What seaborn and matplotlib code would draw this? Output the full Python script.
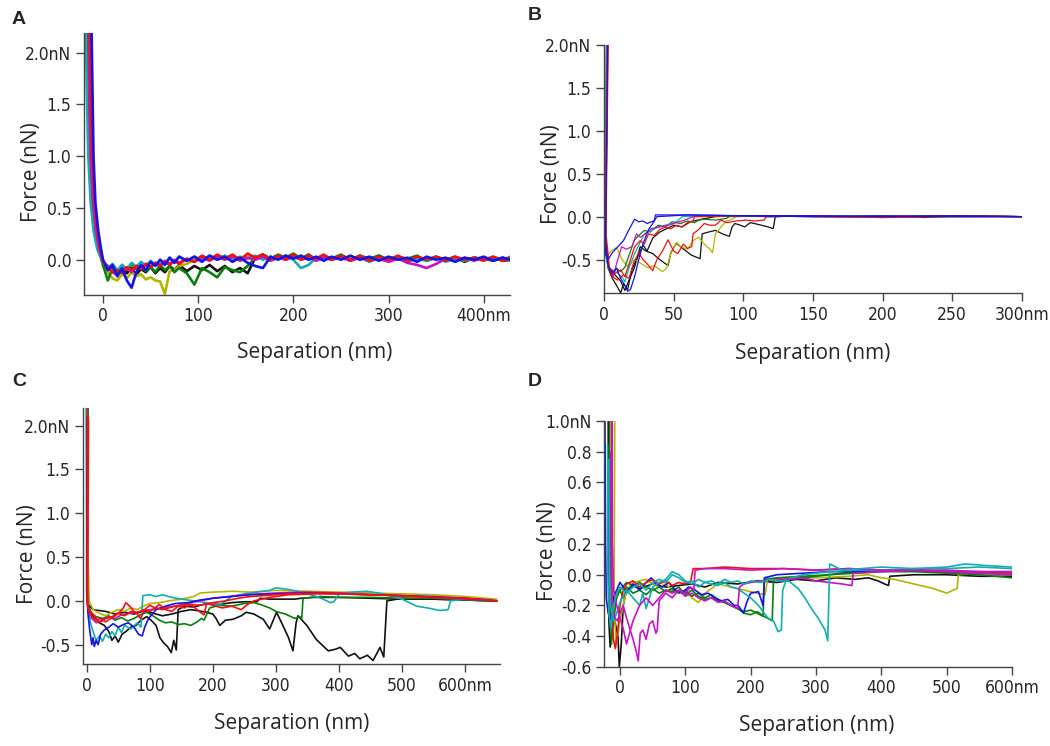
import seaborn as sns
import matplotlib
matplotlib.use("Agg")
import matplotlib.pyplot as plt

# ---------------- colours (Igor-style trace colours) ----------------
trace_colors = {"black": "#111111", "red": "#f01010", "green": "#0b7d0b", "blue": "#1414e6",
                "cyan": "#12aeb0", "magenta": "#c414c4", "yellow": "#b4b400"}

# ---------------- panel A ----------------
a_contact_force = [2.2, 1.6, 1.0, 0.55, 0.28, 0.1]
a_black_contact = [-15, -14, -12.5, -10, -7, -4]
a_red_contact = [-14, -13, -11.5, -9, -6, -3]
a_blue_contact = [-12, -11, -10, -8, -5, -2]
a_green_contact = [-16, -15, -13.5, -11, -8, -4]
a_yellow_contact = [-17, -16, -14, -12, -9, -5]
a_cyan_contact = [-18, -17, -15.5, -13, -10, -6]
a_magenta_contact = [-15, -14.5, -13, -10.5, -7.5, -4]

a_sep = [0, 5, 10, 15, 20, 25, 30, 35, 40, 45, 50, 55, 60, 65, 70, 75, 80,
         88, 96, 104, 112, 120, 128, 136, 144, 152, 160, 168, 176, 184, 192, 200, 208, 216, 224, 232, 240,
         250, 260, 270, 280, 290, 300, 310, 320, 330, 340, 350, 360, 370, 380, 390, 400, 410, 420, 428]

a_red_tail = [-0.02, -0.08, -0.12, -0.1, -0.13, -0.07, -0.1, -0.06, -0.09, -0.04, -0.07, -0.03, -0.06, -0.02, -0.05, -0.01, -0.04,
              0.01, -0.02, 0.04, 0.0, 0.05, 0.01, 0.05, 0.0, 0.06, 0.02, 0.05, 0.0, 0.04, 0.01, 0.05, 0.0, 0.04, 0.01, 0.05, 0.0,
              0.04, 0.0, 0.04, -0.01, 0.03, 0.0, 0.04, -0.01, 0.03, 0.0, 0.03, -0.01, 0.03, 0.0, 0.02, -0.01, 0.03, -0.01, 0.02]
a_blue_tail = [0.0, -0.1, -0.05, -0.16, -0.08, -0.2, -0.27, -0.12, -0.05, -0.1, -0.02, -0.06, 0.0, -0.05, 0.02, -0.03, 0.03,
               -0.01, 0.03, -0.02, 0.04, 0.0, 0.03, -0.02, 0.02, -0.03, -0.06, -0.08, 0.03, 0.0, 0.04, 0.01, 0.04, 0.0, 0.03, -0.01, 0.03,
               0.0, 0.04, 0.0, 0.03, -0.01, 0.03, 0.0, 0.02, -0.02, 0.03, 0.0, 0.02, -0.02, 0.02, 0.0, 0.03, -0.01, 0.02, 0.0]
a_black_tail = [-0.04, -0.1, -0.06, -0.12, -0.07, -0.13, -0.08, -0.14, -0.09, -0.12, -0.07, -0.13, -0.08, -0.12, -0.06, -0.1, -0.05,
                -0.11, -0.06, -0.1, -0.05, -0.11, -0.06, -0.12, -0.08, -0.13, 0.02, 0.05, 0.01, 0.04, 0.0, 0.04, 0.01, 0.05, 0.0, 0.03, 0.01,
                0.04, -0.01, 0.03, 0.0, 0.04, -0.01, 0.02, 0.0, 0.03, -0.01, 0.02, 0.0, 0.02, -0.02, 0.02, 0.0, 0.02, -0.01, 0.0]
a_green_tail = [-0.05, -0.2, -0.08, -0.12, -0.05, -0.1, -0.04, -0.09, -0.06, -0.11, -0.07, -0.12, -0.05, -0.1, -0.06, -0.12, -0.08,
                -0.13, -0.24, -0.08, -0.12, -0.17, -0.07, -0.1, -0.12, -0.06, 0.02, 0.05, 0.01, 0.05, 0.02, 0.06, 0.01, 0.04, 0.0, 0.04, 0.01,
                0.05, 0.0, 0.04, 0.01, 0.04, 0.0, 0.03, 0.01, 0.04, -0.01, 0.03, 0.0, 0.03, -0.01, 0.02, 0.01, -0.01, 0.02, -0.01]
a_yellow_tail = [-0.06, -0.12, -0.18, -0.2, -0.14, -0.18, -0.12, -0.16, -0.14, -0.19, -0.17, -0.2, -0.21, -0.33, -0.11, -0.1, -0.06,
                 -0.04, 0.0, 0.03, 0.0, 0.04, 0.01, 0.04, 0.0, 0.03, 0.0, 0.04, 0.01, 0.04, 0.0, 0.03, 0.01, 0.04, 0.0, 0.03, 0.0,
                 0.03, 0.01, 0.03, 0.0, 0.03, 0.01, 0.03, 0.0, 0.02, 0.0, 0.03, 0.0, 0.02, 0.0, 0.02, 0.0, 0.02, 0.0, 0.01]
a_cyan_tail = [-0.03, -0.08, -0.04, -0.1, -0.05, -0.09, -0.03, -0.07, -0.02, -0.06, -0.01, -0.05, 0.0, -0.04, 0.02, -0.02, 0.03,
               -0.01, 0.03, 0.0, 0.04, 0.01, 0.04, 0.0, 0.03, 0.01, 0.04, 0.0, 0.03, 0.01, 0.04, 0.0, -0.08, -0.05, 0.02, 0.04, 0.0,
               0.03, 0.0, 0.02, -0.02, 0.02, -0.01, 0.02, -0.02, 0.01, -0.01, 0.02, -0.02, 0.01, -0.01, 0.02, 0.0, 0.03, 0.0, 0.03]
a_magenta_tail = [-0.02, -0.06, -0.12, -0.15, -0.1, -0.08, -0.12, -0.06, -0.09, -0.04, -0.07, -0.03, -0.05, -0.01, -0.04, 0.0, -0.03,
                  0.01, -0.02, 0.02, -0.01, 0.03, 0.0, 0.03, -0.01, 0.02, 0.0, 0.03, -0.01, 0.02, 0.0, 0.03, 0.0, 0.02, -0.01, 0.02, 0.0,
                  0.02, -0.01, 0.02, -0.01, 0.01, -0.02, 0.01, -0.03, -0.05, -0.08, -0.04, 0.01, -0.01, 0.02, -0.01, 0.02, 0.0, 0.02, 0.0]

# ---------------- panel B ----------------
b_black1_x = [2.8, 1.2, 3, 6, 9, 12, 14, 17, 20, 24, 28, 31, 35, 40, 45, 50, 56, 62, 70, 80, 95, 120, 150, 200, 250, 300]
b_black1_y = [2.0, -0.2, -0.6, -0.72, -0.8, -0.89, -0.78, -0.85, -0.62, -0.48, -0.33, -0.4, -0.25, -0.18, -0.14, -0.1, -0.12, -0.06, -0.03, 0.0, 0.01, 0.0, 0.01, 0.0, 0.01, 0.0]
b_black2_x = [2.2, 0.8, 3, 8, 12, 15, 19, 22, 26, 30, 35, 40, 46, 48, 52, 55, 58, 63, 69, 70.5, 75, 80, 85, 90, 92, 94, 98, 101, 105, 108, 113, 118, 121.5, 123, 140, 170, 200, 230, 260, 300]
b_black2_y = [2.0, -0.35, -0.58, -0.68, -0.75, -0.86, -0.7, -0.59, -0.35, -0.4, -0.43, -0.5, -0.57, -0.42, -0.31, -0.35, -0.39, -0.45, -0.49, -0.2, -0.18, -0.16, -0.2, -0.23, -0.12, -0.08, -0.1, -0.12, -0.07, -0.08, -0.1, -0.12, -0.14, 0.0, 0.01, 0.0, 0.01, -0.01, 0.01, 0.0]
b_yellow_x = [1.5, 0.5, 2, 5, 9, 13, 17, 22, 27, 32, 36, 42, 45, 48, 52, 55, 60, 64, 68, 72, 76, 78, 80, 84, 88, 92, 95, 120, 160, 200, 250, 300]
b_yellow_y = [2.0, -0.4, -0.47, -0.4, -0.36, -0.5, -0.58, -0.5, -0.55, -0.6, -0.57, -0.64, -0.6, -0.43, -0.3, -0.35, -0.38, -0.28, -0.24, -0.32, -0.38, -0.42, -0.2, -0.12, -0.05, -0.03, 0.0, 0.01, 0.0, 0.01, 0.0, 0.0]
b_red1_x = [2.5, 1, 3, 6, 10, 14, 18, 21, 25, 28, 31, 35, 38, 42, 46, 50, 53, 57, 60, 63, 64, 68, 72, 76, 80, 84, 88, 95, 102, 108, 115, 116.5, 150, 200, 250, 300]
b_red1_y = [2.0, -0.3, -0.55, -0.7, -0.74, -0.68, -0.72, -0.55, -0.42, -0.5, -0.55, -0.63, -0.5, -0.4, -0.27, -0.4, -0.43, -0.32, -0.37, -0.35, -0.2, -0.15, -0.08, -0.1, -0.1, -0.04, -0.07, -0.05, -0.04, -0.05, -0.04, 0.0, 0.01, -0.01, 0.0, 0.0]
b_red2_x = [3, 1.5, 4, 8, 12, 15, 18, 22, 26, 29, 32, 36, 40, 44, 48, 52, 56, 60, 64, 65, 100, 150, 200, 250, 300]
b_red2_y = [2.0, -0.2, -0.6, -0.66, -0.62, -0.7, -0.55, -0.35, -0.28, -0.32, -0.2, -0.22, -0.15, -0.12, -0.14, -0.1, -0.12, -0.07, -0.05, 0.0, 0.01, 0.0, -0.01, 0.01, 0.0]
b_green_x = [2, 0.8, 3, 5.5, 9, 12, 15, 18, 22, 25, 29, 33, 39, 44, 49, 55, 60, 65, 68, 72, 80, 88, 90, 120, 160, 200, 250, 300]
b_green_y = [2.0, -0.4, -0.6, -0.66, -0.6, -0.64, -0.59, -0.45, -0.27, -0.22, -0.16, -0.18, -0.1, -0.12, -0.06, -0.08, -0.05, -0.07, -0.04, -0.03, -0.04, -0.02, 0.0, 0.01, 0.0, 0.0, 0.01, 0.0]
b_cyan_x = [1.8, 0.6, 3, 6, 10, 13, 15, 18, 22, 26, 29, 34, 39, 44, 49, 53, 56, 80, 120, 160, 200, 250, 300]
b_cyan_y = [2.0, -0.3, -0.59, -0.62, -0.66, -0.7, -0.76, -0.6, -0.43, -0.3, -0.2, -0.16, -0.12, -0.1, -0.08, -0.05, 0.0, 0.01, 0.0, 0.01, 0.0, 0.0, 0.0]
b_magenta_x = [2.3, 1, 3, 6.7, 9, 12.7, 16, 20, 23.4, 26, 29, 34, 40, 46, 52, 58, 64, 100, 150, 200, 250, 300]
b_magenta_y = [2.0, -0.2, -0.55, -0.7, -0.55, -0.35, -0.38, -0.35, -0.2, -0.24, -0.21, -0.14, -0.12, -0.1, -0.07, -0.04, 0.0, 0.01, 0.0, 0.0, 0.01, 0.0]
b_blue1_x = [0.2, 0.5, 1.5, 3, 6, 10, 14, 18, 22, 25, 28, 31, 34, 36, 37, 60, 100, 150, 200, 250, 300]
b_blue1_y = [1.2, -0.3, -0.45, -0.5, -0.42, -0.35, -0.28, -0.15, -0.03, -0.06, -0.05, -0.08, -0.06, -0.05, 0.02, 0.02, 0.01, 0.01, 0.0, 0.01, 0.0]
b_blue2_x = [2.6, 1.2, 3, 6, 9, 12, 15, 17, 19, 22, 25, 28, 32, 35, 38, 60, 100, 150, 200, 250, 300]
b_blue2_y = [2.0, -0.3, -0.58, -0.66, -0.6, -0.72, -0.8, -0.87, -0.85, -0.7, -0.5, -0.32, -0.15, -0.08, 0.0, 0.02, 0.01, 0.0, 0.01, 0.0, 0.0]

# ---------------- panel C ----------------
c_black1_x = [0.5, 0, 2, 6, 12, 20, 28, 35, 40, 45, 50, 56, 62, 70, 78, 86, 95, 102, 110, 116, 122, 128, 134, 138, 142, 145, 155, 170, 190, 210,
              230, 250, 270, 275, 290, 310, 330, 340, 360, 400, 450, 500, 550, 600, 650]
c_black1_y = [2.2, 0.1, -0.05, -0.12, -0.2, -0.25, -0.28, -0.35, -0.45, -0.4, -0.47, -0.38, -0.35, -0.3, -0.28, -0.22, -0.18, -0.22, -0.28, -0.42,
              -0.48, -0.52, -0.59, -0.45, -0.56, -0.1, -0.06, -0.07, -0.03, -0.04, -0.02, -0.01, -0.01, 0.03, 0.02, 0.02, 0.02, 0.03, 0.04, 0.04,
              0.03, 0.02, 0.02, 0.01, 0.0]
c_black2_x = [1.5, 1, 3, 10, 30, 45, 60, 75, 90, 105, 120, 135, 150, 165, 175, 190, 200, 205, 211, 220, 232, 245, 253, 265, 280, 290, 301, 311, 320, 327,
              332, 335, 349, 364, 383, 395, 402, 415, 425, 433, 445, 454, 460, 465, 471, 476, 500, 550, 600, 650]
c_black2_y = [2.2, 0.05, -0.05, -0.1, -0.12, -0.15, -0.13, -0.15, -0.12, -0.14, -0.17, -0.15, -0.12, -0.1, -0.11, -0.13, -0.15, -0.2, -0.28, -0.22,
              -0.21, -0.17, -0.13, -0.15, -0.21, -0.32, -0.13, -0.28, -0.42, -0.57, -0.25, -0.17, -0.28, -0.44, -0.57, -0.55, -0.53, -0.63, -0.6, -0.66,
              -0.62, -0.68, -0.6, -0.53, -0.64, 0.0, 0.03, 0.02, 0.01, 0.0]
c_green_x = [2, 1, 3, 8, 15, 25, 35, 45, 55, 65, 75, 85, 95, 105, 115, 125, 135, 145, 155, 165, 175, 182, 186, 195, 210, 230, 250, 265, 275, 290,
             300, 315, 330, 338, 341, 343, 370, 400, 450, 500, 550, 600, 650]
c_green_y = [2.2, 0.05, -0.08, -0.15, -0.18, -0.2, -0.17, -0.22, -0.19, -0.23, -0.2, -0.16, -0.13, -0.17, -0.22, -0.25, -0.24, -0.27, -0.26, -0.28,
             -0.24, -0.2, -0.22, -0.08, -0.05, -0.06, -0.03, -0.02, -0.04, -0.08, -0.12, -0.15, -0.2, -0.18, -0.2, 0.03, 0.05, 0.04, 0.04, 0.03,
             0.03, 0.01, 0.0]
c_cyan_x = [-1, 0, 2, 6, 10, 15, 20, 25, 30, 35, 40, 45, 50, 55, 60, 70, 80, 86, 89, 100, 110, 120, 135, 150, 170, 190, 210, 230, 250, 270,
            290, 300, 320, 340, 360, 375, 386, 392, 401, 420, 444, 470, 500, 523, 540, 560, 573, 577, 600, 630, 650]
c_cyan_y = [2.2, 0.3, -0.05, -0.25, -0.35, -0.45, -0.4, -0.46, -0.38, -0.42, -0.35, -0.4, -0.3, -0.36, -0.28, -0.32, -0.25, -0.3, 0.06, 0.07,
            0.05, 0.07, 0.04, 0.02, 0.0, -0.02, -0.05, 0.05, 0.08, 0.1, 0.12, 0.15, 0.13, 0.1, 0.06, 0.02, -0.02, -0.01, 0.09, 0.1,
            0.11, 0.08, 0.02, -0.06, -0.08, -0.11, -0.1, 0.0, 0.02, 0.02, 0.0]
c_yellow_x = [3, 2, 4, 10, 20, 30, 40, 50, 60, 70, 80, 90, 100, 115, 130, 150, 170, 180, 200, 230, 260, 300, 350, 400, 450, 500, 550, 600, 650]
c_yellow_y = [2.05, 0.5, 0.0, -0.1, -0.14, -0.17, -0.13, -0.1, -0.12, -0.08, -0.1, -0.06, -0.03, -0.02, 0.0, 0.02, 0.05, 0.09, 0.1, 0.11,
              0.1, 0.12, 0.11, 0.1, 0.09, 0.08, 0.07, 0.05, 0.02]
c_red1_x = [1, 0.5, 2, 8, 15, 22, 30, 38, 45, 52, 58, 62, 68, 75, 80, 85, 92, 100, 108, 115, 125, 135, 145, 155, 165, 175, 182, 186, 190, 200,
            215, 230, 245, 255, 265, 290, 320, 360, 400, 450, 500, 550, 600, 650]
c_red1_y = [2.2, 0.0, -0.08, -0.18, -0.22, -0.2, -0.24, -0.2, -0.17, -0.13, -0.08, -0.02, -0.06, -0.12, -0.15, -0.2, -0.1, -0.05, -0.08, -0.04,
            -0.1, -0.12, -0.06, -0.08, -0.04, -0.1, -0.14, -0.16, -0.03, -0.05, -0.08, -0.06, -0.1, -0.04, 0.0, 0.04, 0.07, 0.08, 0.08, 0.07,
            0.06, 0.04, 0.03, 0.0]
c_red2_x = [2.5, 1.5, 3, 10, 20, 30, 40, 50, 60, 70, 80, 90, 100, 110, 120, 140, 160, 180, 200, 220, 240, 260, 280, 320, 380, 450, 520, 600, 650]
c_red2_y = [2.1, 0.0, -0.1, -0.15, -0.25, -0.2, -0.18, -0.14, -0.17, -0.12, -0.14, -0.1, -0.12, -0.08, -0.1, -0.06, -0.04, -0.05, -0.02, 0.0,
            0.03, 0.05, 0.06, 0.08, 0.09, 0.07, 0.05, 0.03, 0.0]
c_blue_x = [0.5, 0, 2, 5, 8, 10, 12, 15, 18, 22, 28, 35, 42, 50, 58, 66, 75, 82, 88, 92, 98, 110, 125, 140, 160, 180, 200, 230, 260, 300,
            350, 400, 450, 500, 550, 600, 650]
c_blue_y = [2.1, 0.1, -0.15, -0.35, -0.5, -0.42, -0.52, -0.45, -0.5, -0.38, -0.33, -0.3, -0.26, -0.3, -0.27, -0.25, -0.3, -0.38, -0.4, -0.3,
            -0.2, -0.1, -0.06, -0.03, -0.02, 0.01, 0.03, 0.05, 0.07, 0.08, 0.09, 0.08, 0.07, 0.06, 0.05, 0.03, 0.0]
c_magenta_x = [1.2, 0.8, 2.5, 8, 15, 25, 35, 45, 55, 70, 85, 100, 120, 140, 160, 180, 200, 225, 250, 300, 350, 400, 450, 500, 550, 600, 650]
c_magenta_y = [2.0, 0.0, -0.1, -0.2, -0.25, -0.22, -0.18, -0.2, -0.16, -0.14, -0.12, -0.1, -0.08, -0.06, -0.03, 0.0, 0.03, 0.05, 0.07, 0.09,
               0.1, 0.09, 0.07, 0.06, 0.04, 0.02, 0.0]

# ---------------- panel D ----------------
d_blue_x = [-23, -22, -21, -18, -14, -10, -5, 0, 5, 10, 20, 30, 40, 48, 55, 65, 75, 85, 95, 105, 115, 125, 135, 145, 155, 165, 175, 181, 189, 194,
            200, 212, 219, 221, 240, 280, 320, 360, 400, 450, 500, 550, 600]
d_blue_y = [1.0, 0.2, -0.15, -0.25, -0.3, -0.15, -0.1, -0.05, -0.08, -0.12, -0.06, -0.1, -0.05, -0.02, -0.06, -0.08, -0.05, -0.1, -0.12, -0.08,
            -0.1, -0.13, -0.12, -0.15, -0.17, -0.16, -0.2, -0.2, -0.25, -0.18, -0.12, -0.11, -0.2, -0.02, 0.0, 0.01, 0.02, 0.02, 0.03, 0.03,
            0.02, 0.02, 0.02]
d_cyan1_x = [-19, -18.5, -17, -14, -10, -5, 0, 10, 20, 30, 40, 50, 60, 70, 80, 90, 100, 110, 120, 130, 140, 150, 160, 170, 180, 190, 200, 215, 230, 245,
             258, 273, 283, 293, 303, 314, 318, 321, 340, 370, 400, 450, 500, 528, 560, 600]
d_cyan1_y = [0.85, 0.0, -0.25, -0.35, -0.2, -0.12, -0.08, -0.12, -0.08, -0.06, -0.1, -0.05, -0.03, -0.05, 0.0, -0.02, -0.05, -0.04, -0.08, -0.05,
             -0.04, -0.06, -0.03, -0.05, -0.04, -0.06, -0.04, -0.05, -0.03, -0.04, -0.04, -0.09, -0.15, -0.22, -0.28, -0.36, -0.43, 0.07, 0.03, 0.04,
             0.05, 0.04, 0.05, 0.07, 0.06, 0.05]
d_cyan2_x = [-17, -16, -14, -10, -5, 0, 10, 20, 30, 35, 40, 50, 60, 70, 80, 90, 100, 110, 120, 130, 140, 150, 160, 170, 180, 190, 200, 212, 226, 235,
             242, 247, 249, 255, 280, 320, 360, 400, 450, 500, 550, 600]
d_cyan2_y = [0.75, 0.0, -0.2, -0.3, -0.25, -0.18, -0.1, -0.15, -0.2, -0.12, -0.22, -0.08, -0.05, -0.03, 0.02, 0.0, -0.04, -0.06, -0.03, -0.05,
             -0.06, -0.07, -0.05, -0.08, -0.09, -0.12, -0.15, -0.2, -0.28, -0.3, -0.37, -0.36, -0.1, -0.03, 0.0, 0.02, 0.03, 0.03, 0.04, 0.04,
             0.05, 0.04]
d_green1_x = [-16, -15.5, -15, -13, -10, -5, 0, 5, 10, 20, 30, 40, 50, 60, 70, 80, 90, 100, 110, 120, 130, 140, 150, 160, 170, 180, 190, 200, 210, 219,
              221, 240, 280, 320, 360, 400, 450, 500, 550, 600]
d_green1_y = [1.0, 0.3, -0.2, -0.45, -0.3, -0.15, -0.1, -0.15, -0.08, -0.12, -0.1, -0.13, -0.09, -0.12, -0.1, -0.11, -0.08, -0.13, -0.1, -0.14,
              -0.16, -0.15, -0.17, -0.18, -0.2, -0.22, -0.24, -0.23, -0.25, -0.27, -0.03, -0.02, -0.01, 0.0, 0.01, 0.02, 0.02, 0.01, 0.0, -0.02]
d_green2_x = [-15, -14.5, -13, -10, -5, 0, 10, 20, 30, 40, 50, 60, 70, 80, 90, 100, 110, 120, 130, 140, 150, 160, 170, 180, 190, 200, 210, 220, 229, 233,
              235, 250, 280, 320, 360, 400, 450, 500, 550, 600]
d_green2_y = [0.6, 0.0, -0.3, -0.2, -0.12, -0.1, -0.05, -0.07, -0.05, -0.08, -0.1, -0.08, -0.11, -0.09, -0.12, -0.1, -0.14, -0.12, -0.15, -0.13,
              -0.16, -0.18, -0.2, -0.22, -0.25, -0.26, -0.24, -0.27, -0.29, -0.3, -0.03, -0.03, -0.02, 0.0, 0.02, 0.03, 0.03, 0.02, 0.01, 0.0]
d_magenta1_x = [-14, -13.5, -12, -8, -4, 0, 5, 10, 15, 20, 25, 28, 31, 35, 40, 45, 50, 55, 57, 60, 70, 80, 90, 100, 108, 113, 115, 130, 160, 200,
                250, 300, 350, 400, 450, 500, 550, 600]
d_magenta1_y = [0.8, 0.1, -0.2, -0.28, -0.3, -0.25, -0.2, -0.28, -0.35, -0.42, -0.5, -0.56, -0.38, -0.36, -0.42, -0.32, -0.3, -0.38, -0.36, -0.17,
                -0.12, -0.15, -0.1, -0.12, -0.08, -0.1, 0.03, 0.04, 0.04, 0.03, 0.04, 0.03, 0.04, 0.03, 0.03, 0.03, 0.02, 0.02]
d_magenta2_x = [-12, -11.5, -10, -5, 0, 5, 10, 20, 30, 40, 50, 60, 70, 80, 90, 100, 110, 120, 130, 140, 150, 160, 170, 180, 183, 190, 200, 220, 240, 260,
                280, 300, 320, 340, 355, 357, 400, 450, 500, 550, 600]
d_magenta2_y = [1.0, 0.2, -0.1, -0.2, -0.28, -0.35, -0.45, -0.3, -0.2, -0.15, -0.2, -0.15, -0.1, -0.12, -0.1, -0.14, -0.12, -0.15, -0.17, -0.15,
                -0.18, -0.17, -0.2, -0.22, -0.08, -0.06, -0.05, -0.04, -0.03, -0.03, -0.02, -0.04, -0.05, -0.06, -0.07, 0.01, 0.02, 0.03, 0.02, 0.01,
                0.0]
d_black_x = [-18, -17.5, -17, -15, -12, -8, -3, -1, 2, 5, 10, 20, 30, 50, 70, 90, 110, 130, 150, 180, 210, 240, 270, 300, 330, 360, 380, 395, 405, 411,
             413, 450, 500, 550, 600]
d_black_y = [1.0, 0.2, -0.3, -0.47, -0.35, -0.3, -0.4, -0.6, -0.45, -0.2, -0.1, -0.07, -0.09, -0.06, -0.08, -0.07, -0.06, -0.08, -0.05, -0.06,
             -0.04, -0.05, -0.03, -0.04, -0.02, -0.03, -0.02, -0.04, -0.06, -0.07, -0.01, 0.0, 0.0, -0.01, -0.01]
d_yellow_x = [-8, -8.5, -9, -6, -3, 0, 5, 10, 20, 30, 40, 50, 60, 70, 80, 90, 100, 110, 120, 130, 150, 170, 190, 210, 222, 226, 250, 300, 350, 380,
              400, 420, 440, 460, 480, 500, 510, 516, 518, 550, 600]
d_yellow_y = [1.0, 0.3, -0.2, -0.45, -0.38, -0.3, -0.2, -0.1, -0.05, -0.04, -0.03, -0.06, -0.08, -0.06, -0.1, -0.12, -0.1, -0.15, -0.18, -0.12,
              -0.06, -0.08, -0.1, -0.12, -0.13, -0.03, -0.02, -0.02, -0.01, 0.0, -0.02, -0.03, -0.05, -0.07, -0.09, -0.12, -0.1, -0.09, 0.0, 0.01,
              0.0]
d_red_x = [-13, -12.5, -12, -10, -7, -3, 0, 5, 10, 20, 30, 40, 50, 60, 70, 80, 90, 100, 108, 112, 130, 160, 200, 250, 300, 350, 400, 450, 500, 550, 600]
d_red_y = [1.0, 0.0, -0.3, -0.42, -0.48, -0.35, -0.2, -0.1, -0.06, -0.04, -0.08, -0.05, -0.03, -0.06, -0.04, -0.07, -0.05, -0.06, -0.05, 0.04,
           0.04, 0.05, 0.04, 0.04, 0.03, 0.04, 0.03, 0.03, 0.02, 0.02, 0.01]

# ---------------- axis ticks ----------------
a_xticks, a_xlabels = [0, 100, 200, 300, 400], ["0", "100", "200", "300", "400nm"]
a_yticks, a_ylabels = [0, 0.5, 1.0, 1.5, 2.0], ["0.0", "0.5", "1.0", "1.5", "2.0nN"]
b_xticks, b_xlabels = [0, 50, 100, 150, 200, 250, 300], ["0", "50", "100", "150", "200", "250", "300nm"]
b_yticks, b_ylabels = [-0.5, 0, 0.5, 1.0, 1.5, 2.0], ["-0.5", "0.0", "0.5", "1.0", "1.5", "2.0nN"]
c_xticks, c_xlabels = [0, 100, 200, 300, 400, 500, 600], ["0", "100", "200", "300", "400", "500", "600nm"]
c_yticks, c_ylabels = [-0.5, 0, 0.5, 1.0, 1.5, 2.0], ["-0.5", "0.0", "0.5", "1.0", "1.5", "2.0nN"]
d_xticks, d_xlabels = [0, 100, 200, 300, 400, 500, 600], ["0", "100", "200", "300", "400", "500", "600nm"]
d_yticks = [-0.6, -0.4, -0.2, 0.0, 0.2, 0.4, 0.6, 0.8, 1.0]
d_ylabels = ["-0.6", "-0.4", "-0.2", "0.0", "0.2", "0.4", "0.6", "0.8", "1.0nN"]

panel_a = [("black", a_black_contact + a_sep, a_contact_force + a_black_tail),
           ("yellow", a_yellow_contact + a_sep, a_contact_force + a_yellow_tail),
           ("green", a_green_contact + a_sep, a_contact_force + a_green_tail),
           ("cyan", a_cyan_contact + a_sep, a_contact_force + a_cyan_tail),
           ("magenta", a_magenta_contact + a_sep, a_contact_force + a_magenta_tail),
           ("red", a_red_contact + a_sep, a_contact_force + a_red_tail),
           ("blue", a_blue_contact + a_sep, a_contact_force + a_blue_tail)]
panel_b = [("black", b_black1_x, b_black1_y), ("black", b_black2_x, b_black2_y),
           ("yellow", b_yellow_x, b_yellow_y), ("green", b_green_x, b_green_y),
           ("cyan", b_cyan_x, b_cyan_y), ("magenta", b_magenta_x, b_magenta_y),
           ("red", b_red1_x, b_red1_y), ("red", b_red2_x, b_red2_y),
           ("blue", b_blue2_x, b_blue2_y), ("blue", b_blue1_x, b_blue1_y)]
panel_c = [("black", c_black1_x, c_black1_y), ("black", c_black2_x, c_black2_y),
           ("green", c_green_x, c_green_y), ("yellow", c_yellow_x, c_yellow_y),
           ("cyan", c_cyan_x, c_cyan_y), ("magenta", c_magenta_x, c_magenta_y),
           ("blue", c_blue_x, c_blue_y), ("red", c_red2_x, c_red2_y), ("red", c_red1_x, c_red1_y)]
panel_d = [("black", d_black_x, d_black_y), ("yellow", d_yellow_x, d_yellow_y),
           ("green", d_green1_x, d_green1_y), ("green", d_green2_x, d_green2_y),
           ("blue", d_blue_x, d_blue_y), ("red", d_red_x, d_red_y),
           ("cyan", d_cyan2_x, d_cyan2_y), ("magenta", d_magenta2_x, d_magenta2_y),
           ("magenta", d_magenta1_x, d_magenta1_y), ("cyan", d_cyan1_x, d_cyan1_y)]

sns.set_theme(style="ticks")
label_font = ["Open Sans", "DejaVu Sans"]

fig = plt.figure(figsize=(10.5, 7.46), dpi=100)


def draw_panel(rect, traces, xlim, ylim, xt, xl, yt, yl, xlab_pos, ylab_pos, lw):
    ax = fig.add_axes(rect)
    for name, xs, ys in traces:
        sns.lineplot(x=xs, y=ys, color=trace_colors[name], sort=False, estimator=None,
                     linewidth=lw, ax=ax)
    ax.set_xlim(*xlim)
    ax.set_ylim(*ylim)
    # condensed tick numbers, unit written on the last tick as in the original
    ax.set_xticks(xt)
    ax.set_xticklabels(xl, family="DejaVu Sans", fontstretch="condensed", fontsize=12.5)
    ax.set_yticks(yt)
    ax.set_yticklabels(yl, family="DejaVu Sans", fontstretch="condensed", fontsize=12.5)
    ax.tick_params(direction="out", length=6, width=1, color="#444444", pad=3)
    sns.despine(ax=ax)
    for s in ("left", "bottom"):
        ax.spines[s].set_color("#444444")
        ax.spines[s].set_linewidth(1.0)
    ax.set_xlabel("Separation (nm)", family=label_font, fontsize=15)
    ax.set_ylabel("Force (nN)", family=label_font, fontsize=15)
    ax.xaxis.set_label_coords(*xlab_pos)
    ax.yaxis.set_label_coords(*ylab_pos)
    return ax


draw_panel([0.080, 0.6046, 0.406, 0.3512], panel_a, (-20, 428), (-0.34, 2.19),
           a_xticks, a_xlabels, a_yticks, a_ylabels, (0.542, -0.179), (-0.099, 0.47), 1.9)
draw_panel([0.5752, 0.6072, 0.398, 0.3325], panel_b, (0, 300), (-0.89, 2.0),
           b_xticks, b_xlabels, b_yticks, b_ylabels, (0.5, -0.2), (-0.1, 0.48), 0.9)
draw_panel([0.079, 0.1099, 0.397, 0.3432], panel_c, (-6, 655), (-0.72, 2.2),
           c_xticks, c_xlabels, c_yticks, c_ylabels, (0.5, -0.19), (-0.108, 0.43), 1.2)
draw_panel([0.5752, 0.1059, 0.3886, 0.3298], panel_d, (-24.5, 600), (-0.6, 1.0),
           d_xticks, d_xlabels, d_yticks, d_ylabels, (0.522, -0.195), (-0.113, 0.47), 1.2)

for letter, px, py in [("A", 12, 19), ("B", 528, 15), ("C", 12, 382), ("D", 528, 382)]:
    fig.text(px / 1050, 1 - py / 746, letter, fontsize=14, fontweight="bold",
             family=["Liberation Sans", "DejaVu Sans"], va="center", ha="left")

fig.savefig("out.png", dpi=100)
